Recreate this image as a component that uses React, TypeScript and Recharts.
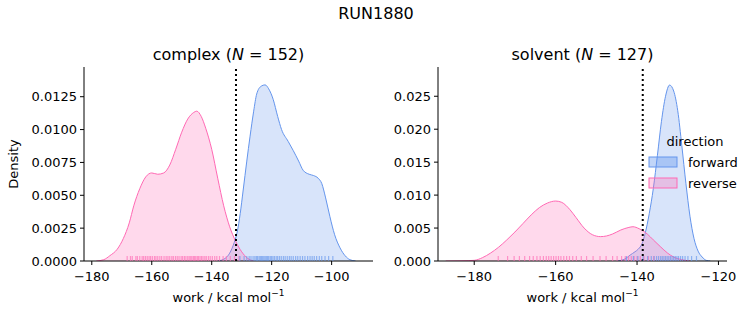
import React from 'react';
import { ComposedChart, Area, Scatter, XAxis, YAxis, ReferenceLine } from 'recharts';

// KDE curves, as [work, density] pairs
const complexForward: [number, number][] = [
  [-138, 0], [-135.5, 0.0002], [-134, 0.0006], [-132.5, 0.0014], [-131.5, 0.0022],
  [-130.5, 0.0036], [-129.5, 0.0054], [-128.3, 0.0076], [-127.2, 0.0095], [-126, 0.0114],
  [-125, 0.0127], [-123.5, 0.0133], [-122.2, 0.0134], [-121, 0.0131], [-119.5, 0.0123],
  [-118, 0.011], [-116.7, 0.01], [-114.5, 0.0091], [-112.8, 0.0084], [-111, 0.0076],
  [-109.5, 0.0069], [-107.5, 0.0066], [-106, 0.0065], [-104.5, 0.0063], [-103.3, 0.0059],
  [-102, 0.0048], [-100.6, 0.0034], [-99, 0.002], [-97.2, 0.001], [-95.5, 0.0004],
  [-93.9, 0.0001], [-92, 0],
];
const complexReverse: [number, number][] = [
  [-178.5, 0], [-176, 0.0001], [-174, 0.0004], [-171.5, 0.0009], [-169.5, 0.0017],
  [-167.5, 0.0029], [-166, 0.0042], [-164, 0.0055], [-162, 0.0064], [-160, 0.0067],
  [-158, 0.0066], [-156, 0.0067], [-154, 0.0073], [-152, 0.0085], [-150, 0.0098],
  [-148, 0.0108], [-146, 0.0113], [-145, 0.0114], [-143.5, 0.011], [-142, 0.0101],
  [-140, 0.0085], [-138, 0.0063], [-136, 0.0042], [-134, 0.0026], [-132, 0.0015],
  [-130, 0.0007], [-128, 0.0002], [-126, 0],
];
const solventForward: [number, number][] = [
  [-145, 0], [-143, 0.0003], [-141.7, 0.0009], [-140.5, 0.0014], [-139.7, 0.0018],
  [-138.8, 0.0026], [-138, 0.0042], [-137, 0.0072], [-136, 0.011], [-135, 0.016],
  [-134, 0.0212], [-133, 0.025], [-132, 0.0267], [-131, 0.0258], [-130, 0.0228],
  [-129, 0.0175], [-128, 0.0118], [-127, 0.0068], [-126, 0.0034], [-125, 0.0015],
  [-124, 0.0006], [-123, 0.0001], [-122, 0],
];
const solventReverse: [number, number][] = [
  [-187, 0], [-183, 0.00003], [-180, 0.0001], [-178, 0.0005], [-176, 0.0012],
  [-174, 0.0021], [-172, 0.0032], [-170, 0.0044], [-168, 0.0057], [-166, 0.007],
  [-164, 0.0081], [-162, 0.0088], [-160, 0.0091], [-158.5, 0.0089], [-156.5, 0.0078],
  [-155, 0.0066], [-153, 0.005], [-151, 0.004], [-149, 0.0037], [-147.5, 0.0038],
  [-146, 0.0041], [-144, 0.0047], [-142, 0.0051], [-141, 0.0052], [-139.5, 0.0049],
  [-137.5, 0.0041], [-136, 0.0032], [-134.3, 0.0022], [-132.5, 0.0012], [-131, 0.0006],
  [-129, 0.0002], [-127, 0],
];

// rug samples (approximate work values)
const complexForwardRug = [
  -130.6, -129.2, -128.3, -127.5, -126.9, -126.2, -125.6, -125.1, -124.7, -124.2, -123.8,
  -123.4, -123.0, -122.6, -122.2, -121.8, -121.4, -121.0, -120.5, -120.1, -119.6, -119.1,
  -118.5, -118.0, -117.4, -116.8, -116.1, -115.5, -114.8, -114.1, -113.5, -112.8, -112.0,
  -111.3, -110.5, -109.7, -108.9, -108.0, -107.2, -106.5, -105.8, -105.0, -104.1, -103.3,
  -102.2, -101.0, -99.6,
];
const complexReverseRug = [
  -168.2, -167.1, -166.5, -165.3, -164.8, -164.0, -163.2, -162.7, -162.1, -161.5, -160.9,
  -160.4, -159.8, -159.1, -158.6, -158.0, -157.3, -156.7, -155.9, -155.2, -154.6, -154.0,
  -153.3, -152.8, -152.1, -151.5, -150.9, -150.2, -149.7, -149.1, -148.6, -148.0, -147.5,
  -147.0, -146.6, -146.1, -145.7, -145.3, -144.8, -144.4, -143.9, -143.4, -142.9, -142.3,
  -141.8, -141.1, -140.5, -139.8, -139.0, -138.3, -137.4, -136.2, -135.1, -133.8, -132.4,
  -130.9,
];
const solventForwardRug = [
  -142.6, -140.9, -139.8, -138.5, -137.4, -136.5, -135.8, -135.2, -134.7, -134.2, -133.8,
  -133.4, -133.0, -132.6, -132.2, -131.8, -131.4, -131.0, -130.6, -130.2, -129.8, -129.3,
  -128.8, -128.2, -127.5, -126.6, -125.4,
];
const solventReverseRug = [
  -174.1, -171.8, -170.2, -168.9, -167.6, -166.4, -165.5, -164.6, -163.8, -163.0, -162.3,
  -161.7, -161.1, -160.5, -159.9, -159.3, -158.7, -158.0, -157.3, -156.6, -155.8, -154.9,
  -153.7, -152.4, -150.8, -149.1, -147.6, -146.0, -144.9, -143.8, -142.9, -142.1, -141.4,
  -140.7, -140.0, -139.2, -138.3, -137.2, -135.9,
];

const complexTicksX = [-180, -160, -140, -120, -100];
const solventTicksX = [-180, -160, -140, -120];
const complexTicksY = [0, 0.0025, 0.005, 0.0075, 0.01, 0.0125];
const solventTicksY = [0, 0.005, 0.01, 0.015, 0.02, 0.025];

const complexMeanWork = -131.9;
const solventMeanWork = -138.6;

const FWD = '#6495ED';
const REV = '#FF69B4';
const FONT = '"DejaVu Sans", sans-serif';

const mergeCurves = (fwd: [number, number][], rev: [number, number][]) => {
  const rows: any[] = [];
  fwd.forEach(([x, d]) => rows.push({ x, fwd: d }));
  rev.forEach(([x, d]) => rows.push({ x, rev: d }));
  return rows.sort((a, b) => a.x - b.x);
};

const rugShape = (color: string) => (props: any) => (
  <line x1={props.cx} x2={props.cx} y1={props.cy} y2={props.cy - 5}
    stroke={color} strokeWidth={1.2} strokeOpacity={0.65} />
);

const fmtX = (v: number) => String(v).replace('-', '\u2212');

type PanelProps = {
  width: number; yAxisWidth: number; rightMargin: number;
  fwd: [number, number][]; rev: [number, number][];
  fwdRug: number[]; revRug: number[];
  xDomain: [number, number]; yDomain: [number, number];
  xTicks: number[]; yTicks: number[]; yDigits: number; meanWork: number;
};

const Panel = (p: PanelProps) => {
  const tick = { fill: '#000', fontSize: 13, fontFamily: FONT };
  return (
    <ComposedChart width={p.width} height={325} data={mergeCurves(p.fwd, p.rev)}
      margin={{ top: 67, right: p.rightMargin, bottom: 0, left: 0 }}>
      <XAxis type="number" dataKey="x" domain={p.xDomain} ticks={p.xTicks} allowDataOverflow
        height={64} tick={tick} tickFormatter={fmtX} tickSize={4} tickMargin={7}
        axisLine={{ stroke: '#000' }} tickLine={{ stroke: '#000' }} />
      <YAxis type="number" domain={p.yDomain} ticks={p.yTicks} allowDataOverflow
        width={p.yAxisWidth} tick={tick} tickFormatter={(v: number) => v.toFixed(p.yDigits)}
        tickSize={4} tickMargin={3} axisLine={{ stroke: '#000' }} tickLine={{ stroke: '#000' }} />
      <Area type="monotone" dataKey="fwd" connectNulls stroke={FWD} strokeWidth={1}
        fill={FWD} fillOpacity={0.25} isAnimationActive={false} dot={false} activeDot={false} />
      <Area type="monotone" dataKey="rev" connectNulls stroke={REV} strokeWidth={1}
        fill={REV} fillOpacity={0.25} isAnimationActive={false} dot={false} activeDot={false} />
      <Scatter data={p.revRug.map((x) => ({ x, y: 0 }))} dataKey="y"
        shape={rugShape(REV)} isAnimationActive={false} />
      <Scatter data={p.fwdRug.map((x) => ({ x, y: 0 }))} dataKey="y"
        shape={rugShape(FWD)} isAnimationActive={false} />
      <ReferenceLine x={p.meanWork} stroke="#000" strokeWidth={2} strokeDasharray="2 3" />
    </ComposedChart>
  );
};

const XLabel = ({ x }: { x: number }) => (
  <text x={x} y={302} textAnchor="middle" fontSize={13}>
    work / kcal mol<tspan dy={-6} fontSize={9}>{'\u22121'}</tspan>
  </text>
);

const App: React.FC = () => {
  return (
    <div style={{ position: 'absolute', left: 0, top: 0, width: 753, height: 325, background: '#fff', fontFamily: FONT }}>
      <div style={{ position: 'absolute', left: 0, top: 0 }}>
        <Panel width={380} yAxisWidth={84} rightMargin={7}
          fwd={complexForward} rev={complexReverse}
          fwdRug={complexForwardRug} revRug={complexReverseRug}
          xDomain={[-182.6, -86.2]} yDomain={[0, 0.01476]}
          xTicks={complexTicksX} yTicks={complexTicksY} yDigits={4} meanWork={complexMeanWork} />
      </div>
      <div style={{ position: 'absolute', left: 380, top: 0 }}>
        <Panel width={373} yAxisWidth={58} rightMargin={26}
          fwd={solventForward} rev={solventReverse}
          fwdRug={solventForwardRug} revRug={solventReverseRug}
          xDomain={[-188.9, -117.9]} yDomain={[0, 0.02944]}
          xTicks={solventTicksX} yTicks={solventTicksY} yDigits={3} meanWork={solventMeanWork} />
      </div>
      <svg width={753} height={325} style={{ position: 'absolute', left: 0, top: 0, pointerEvents: 'none' }}
        fontFamily={FONT} fill="#000">
        <text x={376} y={19} textAnchor="middle" fontSize={16}>RUN1880</text>
        <text x={228.5} y={60} textAnchor="middle" fontSize={16}>
          complex (<tspan fontStyle="italic">N</tspan> = 152)
        </text>
        <text x={582.5} y={60} textAnchor="middle" fontSize={16}>
          solvent (<tspan fontStyle="italic">N</tspan> = 127)
        </text>
        <text x={18} y={164} textAnchor="middle" fontSize={13} transform="rotate(-90 18 164)">Density</text>
        <XLabel x={228.5} />
        <XLabel x={582.5} />
        <text x={695} y={146} textAnchor="middle" fontSize={13}>direction</text>
        <rect x={649} y={157} width={28} height={10} fill="rgba(100,149,237,0.4)" stroke={FWD} strokeWidth={1} />
        <rect x={649} y={178} width={28} height={10} fill="rgba(255,105,180,0.3)" stroke={REV} strokeWidth={1} />
        <text x={688} y={167} fontSize={13}>forward</text>
        <text x={688} y={188} fontSize={13}>reverse</text>
      </svg>
    </div>
  );
};

export default App;
